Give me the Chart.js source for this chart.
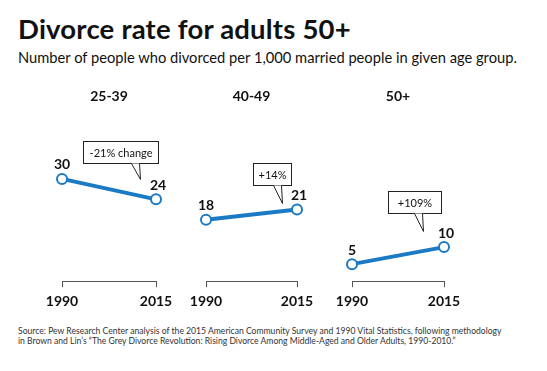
<!DOCTYPE html>
<html>
<head>
<meta charset="utf-8">
<script src="https://cdn.jsdelivr.net/npm/chart.js@4"></script>
<style>
  body { margin: 0; width: 547px; height: 371px; background: #fff; position: relative; overflow: hidden; font-family: Lato, sans-serif; color: #111; }
  h1 { position: absolute; left: 18px; top: 12px; margin: 0; font-size: 27.5px; font-weight: 700; letter-spacing: 0.2px; }
  .sub { position: absolute; left: 18px; top: 48px; font-size: 14.7px; }
  .panel { position: absolute; top: 85px; height: 231px; }
  .source { position: absolute; left: 18px; top: 326px; font-size: 8.6px; line-height: 10px; color: #333; }
</style>
</head>
<body>
<h1>Divorce rate for adults 50+</h1>
<div class="sub">Number of people who divorced per 1,000 married people in given age group.</div>
<div class="panel" style="left:38px;width:142px"><canvas id="p0"></canvas></div>
<div class="panel" style="left:182px;width:139px"><canvas id="p1"></canvas></div>
<div class="panel" style="left:328px;width:140px"><canvas id="p2"></canvas></div>
<div class="source">Source: Pew Research Center analysis of the 2015 American Community Survey and 1990 Vital Statistics, following methodology<br>in Brown and Lin’s “The Grey Divorce Revolution: Rising Divorce Among Middle-Aged and Older Adults, 1990-2010.”</div>
<script>
const years = ['1990', '2015'];
const groups = ['25-39', '40-49', '50+'];
const rates25to39 = [30, 24];
const rates40to49 = [18, 21];
const rates50plus = [5, 10];
const changeLabels = ['-21% change', '+14%', '+109%'];

// where each callout points (fraction between the two years, value), box offset from the tip and box width
const calloutSpots = [
  { at: 0.83, value: 30, left: -57, top: -38, width: 75 },
  { at: 0.835, value: 23, left: -29, top: -40, width: 38 },
  { at: 0.77, value: 14.6, left: -35, top: -40, width: 53 }
];

const FONT = 'Lato, sans-serif';
const BLUE = '#1b7ac4';

const panelMarks = {
  id: 'panelMarks',
  afterDatasetsDraw(chart, args, opts) {
    const ctx = chart.ctx;
    const meta = chart.getDatasetMeta(0);
    const values = chart.data.datasets[0].data;

    ctx.save();
    ctx.fillStyle = '#111';
    ctx.font = 'bold 14px ' + FONT;
    ctx.textAlign = 'center';
    ctx.textBaseline = 'bottom';
    meta.data.forEach((pt, i) => {
      ctx.fillText(String(values[i]), pt.x + (i === 1 ? 2 : 0), pt.y - 7);
    });

    // callout box with a tail
    const x = chart.scales.x, y = chart.scales.y;
    const x0 = x.getPixelForValue(0), x1 = x.getPixelForValue(1);
    const tipX = Math.round(x0 + opts.spot.at * (x1 - x0)) + 0.5;
    const tipY = Math.round(y.getPixelForValue(opts.spot.value)) + 0.5;
    ctx.font = '11px ' + FONT;
    const w = opts.spot.width;
    const h = 22;
    const bx = tipX + opts.spot.left, by = tipY + opts.spot.top;
    ctx.fillStyle = '#fff';
    ctx.strokeStyle = '#222';
    ctx.lineWidth = 1;
    ctx.fillRect(bx, by, w, h);
    ctx.strokeRect(bx, by, w, h);
    ctx.beginPath();
    ctx.moveTo(tipX - 9, by + h);
    ctx.lineTo(tipX, tipY);
    ctx.lineTo(tipX - 1, by + h);
    ctx.closePath();
    ctx.fill();
    ctx.beginPath();
    ctx.moveTo(tipX - 9, by + h);
    ctx.lineTo(tipX, tipY);
    ctx.lineTo(tipX - 1, by + h);
    ctx.stroke();
    ctx.fillStyle = '#111';
    ctx.textBaseline = 'middle';
    ctx.fillText(opts.text, bx + w / 2, by + h / 2 + 1);
    ctx.restore();
  }
};

function drawPanel(id, group, rates, text, spot) {
  new Chart(document.getElementById(id), {
    type: 'line',
    data: {
      labels: years,
      datasets: [{
        data: rates,
        borderColor: BLUE,
        borderWidth: 4,
        pointRadius: 5,
        pointBorderWidth: 2,
        pointBackgroundColor: '#fff',
        pointBorderColor: BLUE,
        clip: false
      }]
    },
    options: {
      responsive: true,
      maintainAspectRatio: false,
      animation: false,
      events: [],
      layout: { padding: { left: 24, right: 24 } },
      plugins: {
        legend: { display: false },
        tooltip: { enabled: false },
        title: {
          display: true,
          text: group,
          color: '#111',
          font: { family: FONT, size: 14, weight: 'bold' },
          padding: { top: 3, bottom: 40 }
        },
        panelMarks: { text: text, spot: spot }
      },
      scales: {
        x: {
          offset: false,
          grid: { display: true, drawOnChartArea: false, drawTicks: true, tickLength: 6, color: '#555', lineWidth: 1 },
          border: { display: true, color: '#555', width: 1 },
          ticks: { color: '#111', font: { family: FONT, size: 14, weight: 'bold' }, padding: 6, maxRotation: 0, autoSkip: false }
        },
        y: { display: false, min: 0, max: 40 }
      }
    },
    plugins: [panelMarks]
  });
}

drawPanel('p0', groups[0], rates25to39, changeLabels[0], calloutSpots[0]);
drawPanel('p1', groups[1], rates40to49, changeLabels[1], calloutSpots[1]);
drawPanel('p2', groups[2], rates50plus, changeLabels[2], calloutSpots[2]);
</script>
</body>
</html>
